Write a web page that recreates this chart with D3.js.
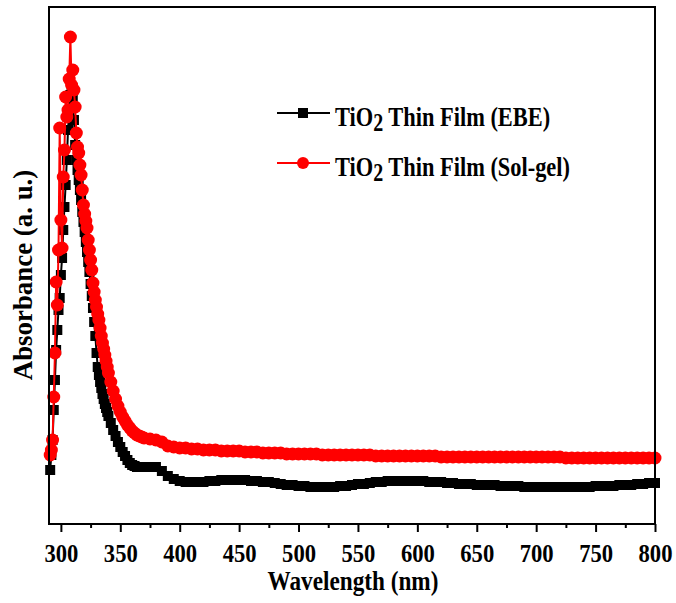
<!DOCTYPE html>
<html>
<head>
<meta charset="utf-8">
<script src="https://cdn.jsdelivr.net/npm/d3@7"></script>
<style>
  body { margin: 0; background: #fff; }
  text { font-family: "Liberation Serif", "Times New Roman", serif; font-weight: bold; }
</style>
</head>
<body>
<svg width="676" height="603"></svg>
<script>
// wavelength grid (nm)
const wavelength = [
  291,292,293,294,295,296,297,298,299,300,301,302,303,304,305,306,307,308,309,310,
  311,312,313,314,315,316,317,318,319,320,321,322,323,324,325,326,327,328,329,330,
  331,332,333,334,335,336,337,338,339,340,
  342,344,346,348,350,352,354,356,358,360,362,364,366,368,370,
  375,380,385,390,395,400,405,410,415,420,425,430,435,440,445,450,455,460,465,470,
  475,480,485,490,495,500,505,510,515,520,525,530,535,540,545,550,555,560,565,570,
  575,580,585,590,595,600,605,610,615,620,625,630,635,640,645,650,655,660,665,670,
  675,680,685,690,695,700,705,710,715,720,725,730,735,740,745,750,755,760,765,770,
  775,780,785,790,795,800
];

// TiO2 thin film (EBE)
const ebe = [
  0.54,0.69,0.84,1.14,1.44,1.74,1.94,2.14,2.26,2.49,2.66,2.94,3.17,3.39,3.64,3.94,4.14,4.29,4.34,4.24,
  4.04,3.79,3.64,3.54,3.44,3.34,3.24,3.12,3.02,2.92,2.82,2.72,2.62,2.52,2.40,2.28,2.16,2.02,1.88,1.71,
  1.57,1.49,1.42,1.36,1.30,1.25,1.20,1.16,1.12,1.08,
  1.01,0.94,0.88,0.82,0.77,0.72,0.68,0.64,0.61,0.59,0.58,0.57,0.57,0.57,0.57,
  0.57,0.57,0.53,0.48,0.45,0.43,0.42,0.42,0.42,0.42,0.43,0.43,0.44,0.44,0.44,0.44,0.44,0.43,0.43,0.42,
  0.42,0.41,0.40,0.39,0.39,0.38,0.38,0.37,0.37,0.37,0.37,0.37,0.38,0.38,0.39,0.40,0.40,0.41,0.42,0.42,
  0.43,0.43,0.43,0.43,0.43,0.43,0.43,0.42,0.42,0.42,0.41,0.41,0.40,0.40,0.40,0.39,0.39,0.39,0.39,0.38,
  0.38,0.38,0.38,0.37,0.37,0.37,0.37,0.37,0.37,0.37,0.37,0.37,0.37,0.37,0.37,0.38,0.38,0.38,0.38,0.39,
  0.39,0.39,0.40,0.40,0.41,0.41
];

// TiO2 thin film (Sol-gel)
const solgel = [
  0.69,0.74,0.84,1.27,1.71,2.42,2.19,2.74,3.96,3.04,2.76,3.47,3.74,4.27,4.07,4.14,4.45,4.87,4.39,4.54,
  4.34,4.17,3.91,3.77,3.71,3.59,3.49,3.34,3.19,3.10,3.03,2.96,2.84,2.74,2.64,2.54,2.41,2.32,2.24,2.17,
  2.10,2.04,1.96,1.88,1.81,1.75,1.69,1.63,1.57,1.51,
  1.42,1.33,1.25,1.18,1.12,1.07,1.03,0.99,0.96,0.93,0.91,0.89,0.88,0.87,0.86,
  0.85,0.84,0.82,0.78,0.77,0.76,0.76,0.75,0.75,0.74,0.74,0.74,0.73,0.73,0.73,0.73,0.72,0.72,0.72,0.71,
  0.71,0.71,0.71,0.70,0.70,0.70,0.70,0.70,0.70,0.69,0.69,0.69,0.69,0.69,0.69,0.69,0.69,0.69,0.68,0.68,
  0.68,0.68,0.68,0.68,0.68,0.68,0.68,0.68,0.68,0.67,0.67,0.67,0.67,0.67,0.67,0.67,0.67,0.67,0.67,0.67,
  0.67,0.67,0.67,0.67,0.67,0.67,0.67,0.67,0.67,0.67,0.66,0.66,0.66,0.66,0.66,0.66,0.66,0.66,0.66,0.66,
  0.66,0.66,0.66,0.66,0.66,0.66
];

const xTicks = [300, 350, 400, 450, 500, 550, 600, 650, 700, 750, 800];
const legendLabels = ['Thin Film (EBE)', 'Thin Film (Sol-gel)'];

const svg = d3.select('svg');
const margin = {top: 7, right: 21, bottom: 79, left: 49};
const width = 676 - margin.left - margin.right;
const height = 603 - margin.top - margin.bottom;

const x = d3.scaleLinear().domain([290, 800]).range([0, width]);
const y = d3.scaleLinear().domain([0, 5.17]).range([height, 0]);

const g = svg.append('g').attr('transform', `translate(${margin.left},${margin.top})`);

// bottom axis, minor ticks then major ticks with labels
g.append('g')
  .attr('transform', `translate(0,${height})`)
  .call(d3.axisBottom(x).tickValues(d3.range(325, 800, 50)).tickSize(4).tickFormat(''))
  .call(a => a.select('.domain').remove())
  .call(a => a.selectAll('line').attr('stroke-width', 2));

g.append('g')
  .attr('transform', `translate(0,${height})`)
  .call(d3.axisBottom(x).tickValues(xTicks).tickSize(8).tickPadding(6))
  .call(a => a.select('.domain').remove())
  .call(a => a.selectAll('line').attr('stroke-width', 2))
  .call(a => a.selectAll('text')
    .attr('y', 38).attr('dy', null)
    .attr('transform', 'scale(0.87,1)')
    .attr('font-size', 26)
    .attr('font-family', '"Liberation Serif", serif')
    .attr('font-weight', 'bold')
    .attr('fill', '#000'));

const series = [
  {vals: ebe, color: '#000', shape: 'square'},
  {vals: solgel, color: '#ff0000', shape: 'circle'}
];

const line = d3.line().x(d => x(d[0])).y(d => y(d[1]));

series.forEach(s => {
  const pts = wavelength.map((w, i) => [w, s.vals[i]]);
  g.append('path')
    .attr('d', line(pts))
    .attr('fill', 'none')
    .attr('stroke', s.color)
    .attr('stroke-width', 2);
  if (s.shape === 'square') {
    g.selectAll(null).data(pts).enter().append('rect')
      .attr('x', d => x(d[0]) - 5)
      .attr('y', d => y(d[1]) - 5)
      .attr('width', 10).attr('height', 10)
      .attr('fill', s.color);
  } else {
    g.selectAll(null).data(pts).enter().append('circle')
      .attr('cx', d => x(d[0]))
      .attr('cy', d => y(d[1]))
      .attr('r', 6.5)
      .attr('fill', s.color);
  }
});

// frame
g.append('rect')
  .attr('width', width).attr('height', height)
  .attr('fill', 'none').attr('stroke', '#000').attr('stroke-width', 2);

// axis titles
svg.append('text')
  .attr('transform', 'translate(353,590) scale(0.86,1)')
  .attr('text-anchor', 'middle').attr('font-size', 27)
  .text('Wavelength (nm)');

svg.append('text')
  .attr('transform', 'translate(32,275) rotate(-90) scale(0.96,1)')
  .attr('text-anchor', 'middle').attr('font-size', 28)
  .text('Absorbance (a. u.)');

// legend
const leg = svg.append('g');
series.forEach((s, i) => {
  const ly = 113 + i * 50;
  leg.append('line')
    .attr('x1', 277).attr('x2', 330).attr('y1', ly).attr('y2', ly)
    .attr('stroke', s.color).attr('stroke-width', 2);
  if (s.shape === 'square') {
    leg.append('rect').attr('x', 298).attr('y', ly - 5).attr('width', 10).attr('height', 10).attr('fill', s.color);
  } else {
    leg.append('circle').attr('cx', 303).attr('cy', ly).attr('r', 6).attr('fill', s.color);
  }
  const t = leg.append('text')
    .attr('transform', `translate(335,${ly + 13}) scale(0.8,1)`)
    .attr('font-size', 28);
  t.append('tspan').text('TiO');
  t.append('tspan').attr('dy', 5).attr('font-size', 25).text('2');
  t.append('tspan').attr('dy', -5).text(' ' + legendLabels[i]);
});
</script>
</body>
</html>
